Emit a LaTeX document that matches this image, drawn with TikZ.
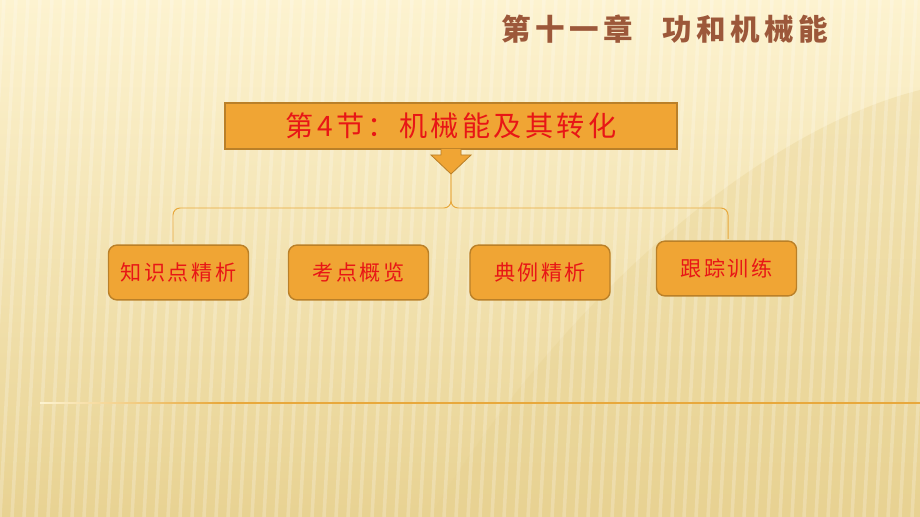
\documentclass[tikz,border=0pt]{standalone}
\usepackage{fontspec}
\newfontfamily\cjk{Noto Sans CJK SC}
\newfontfamily\cjkwide[LetterSpace=12]{Noto Sans CJK SC}
\newfontfamily\cjktitle[LetterSpace=15]{Noto Sans CJK SC}
\usetikzlibrary{positioning}
\definecolor{bgtop}{RGB}{253,243,208}
\definecolor{bgbot}{RGB}{232,210,146}
\definecolor{boxfill}{RGB}{240,165,52}
\definecolor{boxline}{RGB}{186,128,40}
\definecolor{textred}{RGB}{232,22,22}
\definecolor{titlebrown}{RGB}{156,88,58}
\definecolor{linkc}{RGB}{232,168,60}

\begin{document}
\begin{tikzpicture}[x=0.025cm, y=-0.025cm,
        topic/.style={draw=boxline, line width=1pt, fill=boxfill, rounded corners=6pt, minimum width=3.5cm, minimum height=1.37cm, inner sep=0pt, text=textred, font=\cjkwide\fontsize{15}{15}\selectfont},
        section/.style={draw=boxline, line width=1.4pt, fill=boxfill, minimum width=11.3cm, minimum height=1.17cm, inner sep=0pt, text=textred, font=\cjkwide\fontsize{20}{20}\selectfont},
        link/.style={draw=linkc, line width=0.7pt, rounded corners=5pt}
    ]
        \useasboundingbox (0,0) rectangle (920,517);
        % 背景
        \begin{scope}
            \clip (0,0) rectangle (920,517);
            \shade[top color=bgtop, bottom color=bgbot] (0,0) rectangle (920,517);
            \fill[bgbot, opacity=0.35] (430,517) .. controls (560,300) and (760,130) .. (920,90) -- (920,517) -- cycle;
            \foreach \x in {-60,-48,...,940}
                \draw[white, opacity=0.22, line width=2.5pt] (\x,517) -- (\x+28,0);
        \end{scope}

        % 章标题
        \node[text=titlebrown, font=\cjktitle\fontsize{21}{21}\selectfont\bfseries] (chapter) at (665,29) {第十一章\quad 功和机械能};

        % 节标题
        \node[section] (sec) at (451,126) {第4节：机械能及其转化};
        \fill[boxfill, draw=boxline, line width=0.6pt] (441,149) -- (441,155) -- (431,155) -- (451,174) -- (471,155) -- (461,155) -- (461,149);
        \coordinate (tip) at (451,174);

        % 栏目
        \node[topic] (know) at (178.5,272.5) {知识点精析};
        \node[topic] (exam) at (358.5,272.5) {考点概览};
        \node[topic] (case) at (540,272.5) {典例精析};
        \node[topic] (train) at (726.5,268.5) {跟踪训练};

        \coordinate (kend) at (173,242);
        \coordinate (tend) at (728,239);
        \draw[link] (kend) |- (451,208) -- (tip);
        \draw[link] (tend) |- (451,208) -- (tip);

        % 分隔线
        \shade[left color=bgtop, right color=linkc] (40,402.4) rectangle (220,403.6);
        \draw[linkc, line width=0.9pt] (220,403) -- (920,403);
    \end{tikzpicture}
\end{document}
